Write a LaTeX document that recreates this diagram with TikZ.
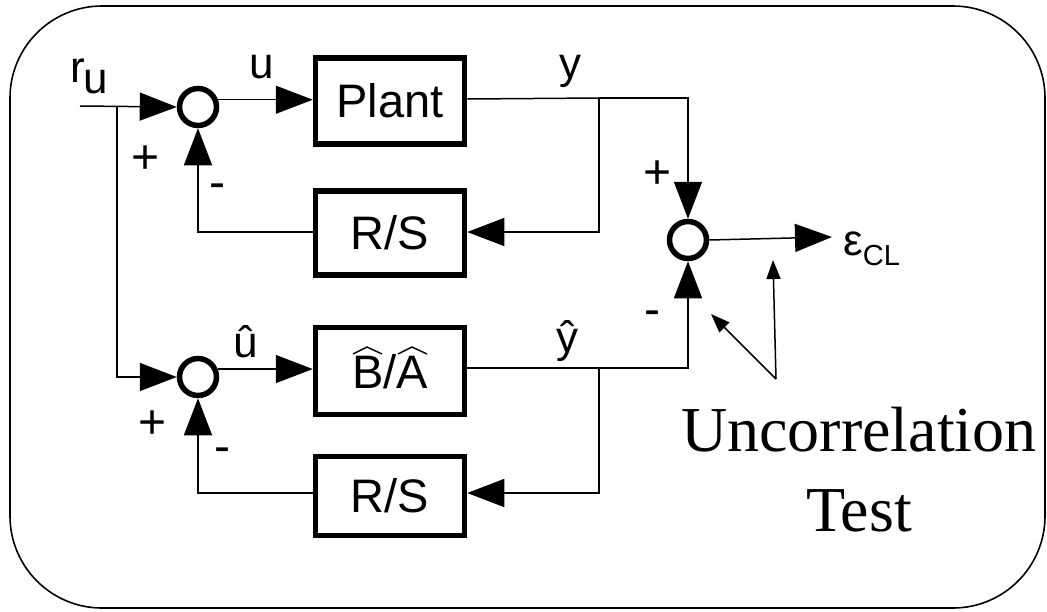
\documentclass[tikz,border=0pt]{standalone}
\usepackage{fontspec}
\setmainfont{Liberation Serif}
\setsansfont{Liberation Sans}
\usetikzlibrary{arrows.meta}
\begin{document}
\begin{tikzpicture}[x=1pt,y=-1pt,
  blk/.style={draw,line width=5.5pt,minimum width=149pt,inner sep=0pt,font=\sffamily\fontsize{47}{50}\selectfont},
  sumc/.style={draw,circle,line width=5.5pt,minimum size=37pt,inner sep=0pt},
  conn/.style={line width=1.5pt},
  arr/.style={conn,-{Triangle[length=37pt,width=28pt]}},
  sarr/.style={conn,-{Triangle[length=19pt,width=14pt]}},
  lbl/.style={font=\sffamily\fontsize{44}{46}\selectfont,inner sep=0pt},
  sgn/.style={font=\sffamily\fontsize{48}{50}\selectfont,inner sep=0pt},
  hat/.style={line width=1.4pt}]
\useasboundingbox (0,0) rectangle (1047,611);
\draw[line width=1.6pt,rounded corners=92pt] (10,6) rectangle (1045,608);
% nodes
\node[sumc] (s1) at (198,107) {};
\node[sumc] (s3) at (198,377) {};
\node[sumc] (s2) at (688,240) {};
\node[blk,minimum height=86pt] (plant) at (390,101) {Plant};
\node[blk,minimum height=84pt] (rs1) at (390,233) {R/S};
\node[blk,minimum height=87pt,text height=34pt,text depth=0pt] (ba) at (390,371) {B/A};
\node[blk,minimum height=79pt] (rs2) at (390,496) {R/S};
\coordinate (in) at (80,106);
\coordinate (br) at (117,106);
\coordinate (yb) at (599,98);
\coordinate (yhb) at (599,368);
\coordinate (eout) at (832,237);
\coordinate (ut) at (776,379);
% hats over B and A
\draw[hat,shift={(ba.center)}] (-37,-17) -- (-23,-24) -- (-8,-17);
\draw[hat,shift={(ba.center)}] (8,-17) -- (22,-24) -- (37,-17);
% top loop
\draw[arr] (in) -- (s1.west);
\draw[arr] (s1.20) -- (s1.20 -| plant.west);
\draw[conn] ([yshift=2pt]plant.east) -- (yb);
\draw[arr] (yb) -| (s2.north);
\draw[arr] (yb) |- ([yshift=1pt]rs1.east);
\draw[arr] ([yshift=1pt]rs1.west) -| (s1.south);
% bottom loop
\draw[arr] (br) |- (s3.west);
\draw[arr] (s3.22) -- (s3.22 -| ba.west);
\draw[conn] ([yshift=3pt]ba.east) -- (yhb);
\draw[arr] (yhb) -| (s2.south);
\draw[arr] (yhb) |- ([yshift=3pt]rs2.east);
\draw[arr] ([yshift=3pt]rs2.west) -| (s3.south);
% output
\draw[arr] (s2.east) -- (eout);
% uncorrelation pointers
\draw[sarr] (ut) -- (711,314);
\draw[sarr] (ut) -- (773,260);
% labels
\node[lbl,anchor=base west] (lr) at (70,82) {r};
\node[lbl,anchor=base west] (lru) at (83,93) {u};
\node[lbl,anchor=base] (lu) at (262,78) {u};
\node[lbl,anchor=base] (ly) at (570,78) {y};
\node[lbl,anchor=base] (luh) at (246,357) {û};
\node[lbl,anchor=base] (lyh) at (567,352) {ŷ};
\node[sgn] (p1) at (146,160) {+};
\node[sgn] (m1) at (217,191) {-};
\node[sgn] (p2) at (658,175) {+};
\node[sgn] (m2) at (652,318) {-};
\node[sgn] (p3) at (153,425) {+};
\node[sgn] (m3) at (222,455) {-};
\node[anchor=base west,inner sep=0pt,font=\sffamily] (eps) at (843,255) {\fontsize{44}{46}\selectfont ε\fontsize{29}{30}\selectfont\raisebox{-10pt}{CL}};
\node[align=center,inner sep=0pt,font=\rmfamily\fontsize{64}{80}\selectfont] (ut-txt) at (859,470) {Uncorrelation\\Test};
\end{tikzpicture}
\end{document}
